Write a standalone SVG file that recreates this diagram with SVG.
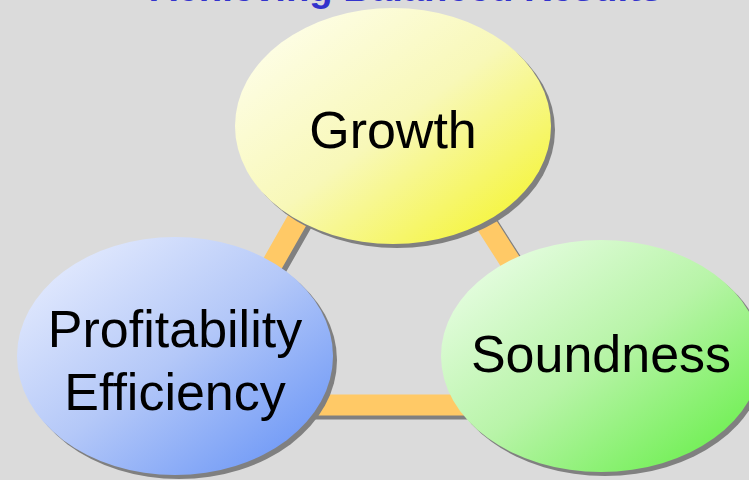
<svg xmlns="http://www.w3.org/2000/svg" width="749" height="480" viewBox="0 0 749 480">
  <style>
    .lbl { font-family: "Liberation Sans", Arial, sans-serif; font-size: 52px; fill: #000; text-anchor: middle; }
    .title { font-family: "Liberation Sans", Arial, sans-serif; font-size: 38px; font-weight: bold; fill: #3333CC; }
    .shadow { fill: #808080; }
    .bar { fill: none; stroke: #FFC966; stroke-width: 21; }
    .barsh { fill: none; stroke: #808080; stroke-width: 21; }
  </style>
  <defs>
    <linearGradient id="gY" x1="0" y1="0" x2="1" y2="1">
      <stop offset="0" stop-color="#FFFFF4"/>
      <stop offset="0.5" stop-color="#F8F8B8"/>
      <stop offset="1" stop-color="#F4F41C"/>
    </linearGradient>
    <linearGradient id="gB" x1="0" y1="0" x2="1" y2="1">
      <stop offset="0" stop-color="#EEF2FF"/>
      <stop offset="0.5" stop-color="#B4C8F8"/>
      <stop offset="1" stop-color="#5F8EF6"/>
    </linearGradient>
    <linearGradient id="gG" x1="0" y1="0" x2="1" y2="1">
      <stop offset="0" stop-color="#F2FFF0"/>
      <stop offset="0.5" stop-color="#B8F4A8"/>
      <stop offset="1" stop-color="#5CEE3C"/>
    </linearGradient>
  </defs>
  <rect width="749" height="480" fill="#DBDBDB"/>
  <text class="title" x="150" y="0.5" textLength="512" lengthAdjust="spacingAndGlyphs">Achieving Balanced Results</text>
  <g id="connectors">
    <polygon class="barsh" points="389,70 196,409 606,409"/>
    <polygon class="bar" points="385,66 192,405 602,405"/>
  </g>
  <g id="growth">
    <ellipse class="shadow" cx="397" cy="130" rx="158" ry="118"/>
    <ellipse cx="393" cy="126" rx="158" ry="118" fill="url(#gY)"/>
    <text class="lbl" x="393" y="148">Growth</text>
  </g>
  <g id="profitability">
    <ellipse class="shadow" cx="179" cy="360" rx="158" ry="119"/>
    <ellipse cx="175" cy="356" rx="158" ry="119" fill="url(#gB)"/>
    <text class="lbl" x="175" y="347">Profitability</text>
    <text class="lbl" x="175" y="410">Efficiency</text>
  </g>
  <g id="soundness">
    <ellipse class="shadow" cx="605" cy="360" rx="160" ry="116"/>
    <ellipse cx="601" cy="356" rx="160" ry="116" fill="url(#gG)"/>
    <text class="lbl" x="601" y="372">Soundness</text>
  </g>
</svg>
